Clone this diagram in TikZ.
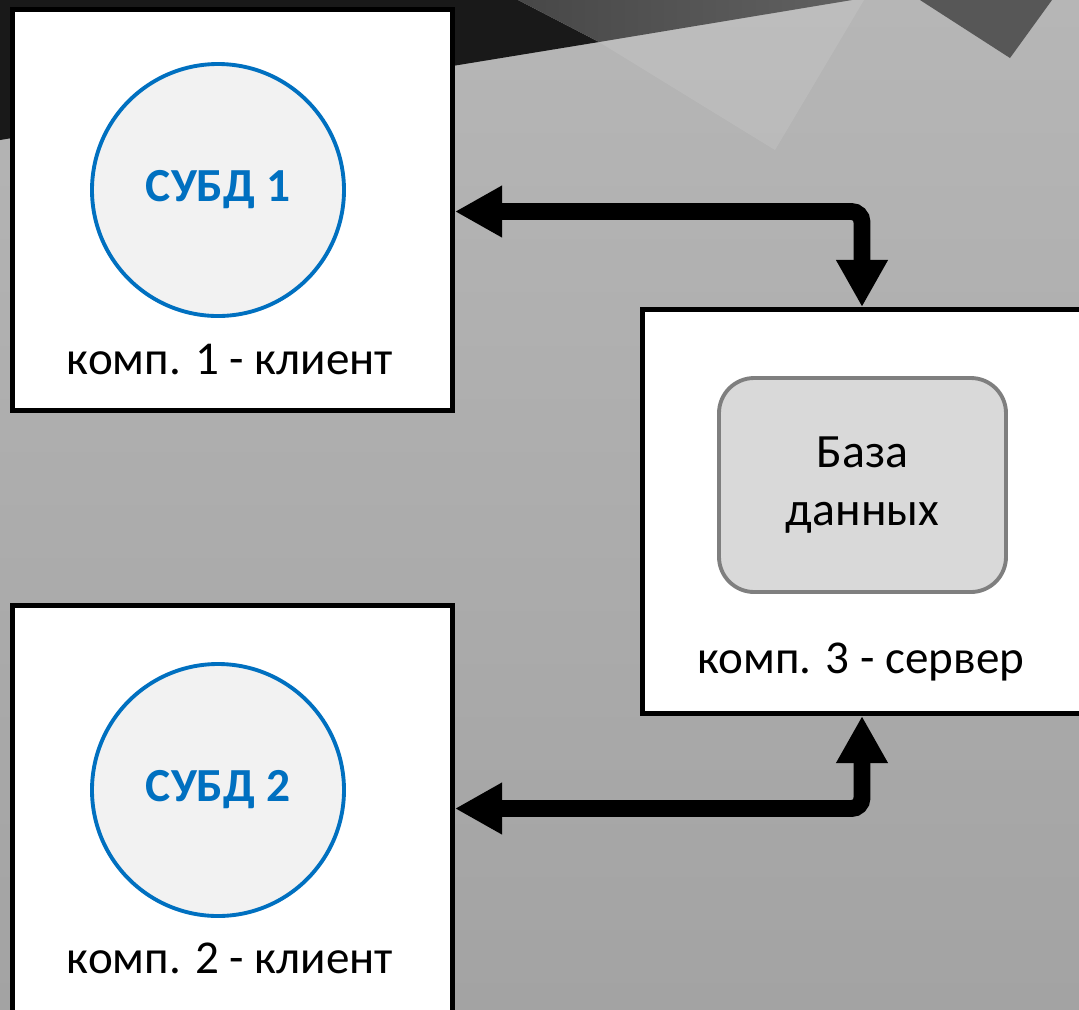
\documentclass[tikz,border=0pt]{standalone}
\usepackage{fontspec}
\setmainfont{Carlito}
\usetikzlibrary{arrows.meta}
\definecolor{blueline}{HTML}{0070C0}
\definecolor{circfill}{HTML}{F2F2F2}
\definecolor{dbfill}{HTML}{D9D9D9}
\definecolor{dbline}{HTML}{7F7F7F}
\definecolor{bgtop}{HTML}{B6B6B6}
\definecolor{bgbottom}{HTML}{A3A3A3}

\begin{document}
\begin{tikzpicture}[comp/.style={rectangle, draw=black, fill=white, line width=1.4pt, minimum width=4.40cm, minimum height=4.01cm, inner sep=0pt},
	dbms/.style={circle, draw=blueline, fill=circfill, line width=1.1pt, minimum size=2.52cm, inner sep=0pt, text=blueline, font=\fontsize{13.5}{15}\selectfont\bfseries},
	dbase/.style={rectangle, rounded corners=10pt, draw=dbline, fill=dbfill, line width=1.1pt, minimum width=2.87cm, minimum height=2.14cm, align=center, font=\fontsize{13.6}{16.5}\selectfont},
	caption/.style={font=\fontsize{13.4}{15}\selectfont},
	link/.style={line width=4.8pt, rounded corners=3pt, >={Triangle[length=13.4pt,width=13.8pt]}, <->}]
	\useasboundingbox (0,0) rectangle (10.79,-10.09);
	\clip (0,0) rectangle (10.79,-10.09);
	% background
	\shade[top color=bgtop, bottom color=bgbottom] (0,0) rectangle (10.79,-10.09);
	\fill[white, opacity=0.1] (5.99,-0.42) -- (8.52,0) -- (8.64,0) -- (7.75,-1.50) -- cycle;
	\fill[black!90] (0,0) -- (5.18,0) -- (5.99,-0.42) -- (0,-1.40) -- cycle;
	\shade[left color=black!72, right color=black!62] (5.18,0) -- (8.52,0) -- (5.99,-0.42) -- cycle;
	\fill[black!66] (9.20,0) -- (10.52,0) -- (10.10,-0.58) -- cycle;
	
	\node[comp] at (2.325,-2.10) (box1) {};
	\node[comp, minimum height=4.3cm] at (2.325,-8.205) (box2) {};
	\node[comp, minimum width=4.6cm, minimum height=4.04cm] at (8.725,-5.115) (box3) {};
	
	\node[dbms] at (2.18,-1.90) (dbms1) {СУБД 1};
	\node[dbms] at (2.18,-7.90) (dbms2) {СУБД 2};
	\node[dbase] at (8.625,-4.85) (db) {База\\данных};
	
	\node[caption] at (2.30,-3.60) (cap1) {комп. 1 - клиент};
	\node[caption] at (2.30,-9.58) (cap2) {комп. 2 - клиент};
	\node[caption] at (8.61,-6.62) (cap3) {комп. 3 - сервер};
	
	\coordinate (j1) at (8.62,-2.115);
	\coordinate (j2) at (8.62,-8.085);
	\draw[link] (box1.east |- j1) -- (j1) -- (j1 |- box3.north);
	\draw[link] (box2.east |- j2) -- (j2) -- (j2 |- box3.south);
\end{tikzpicture}
\end{document}
